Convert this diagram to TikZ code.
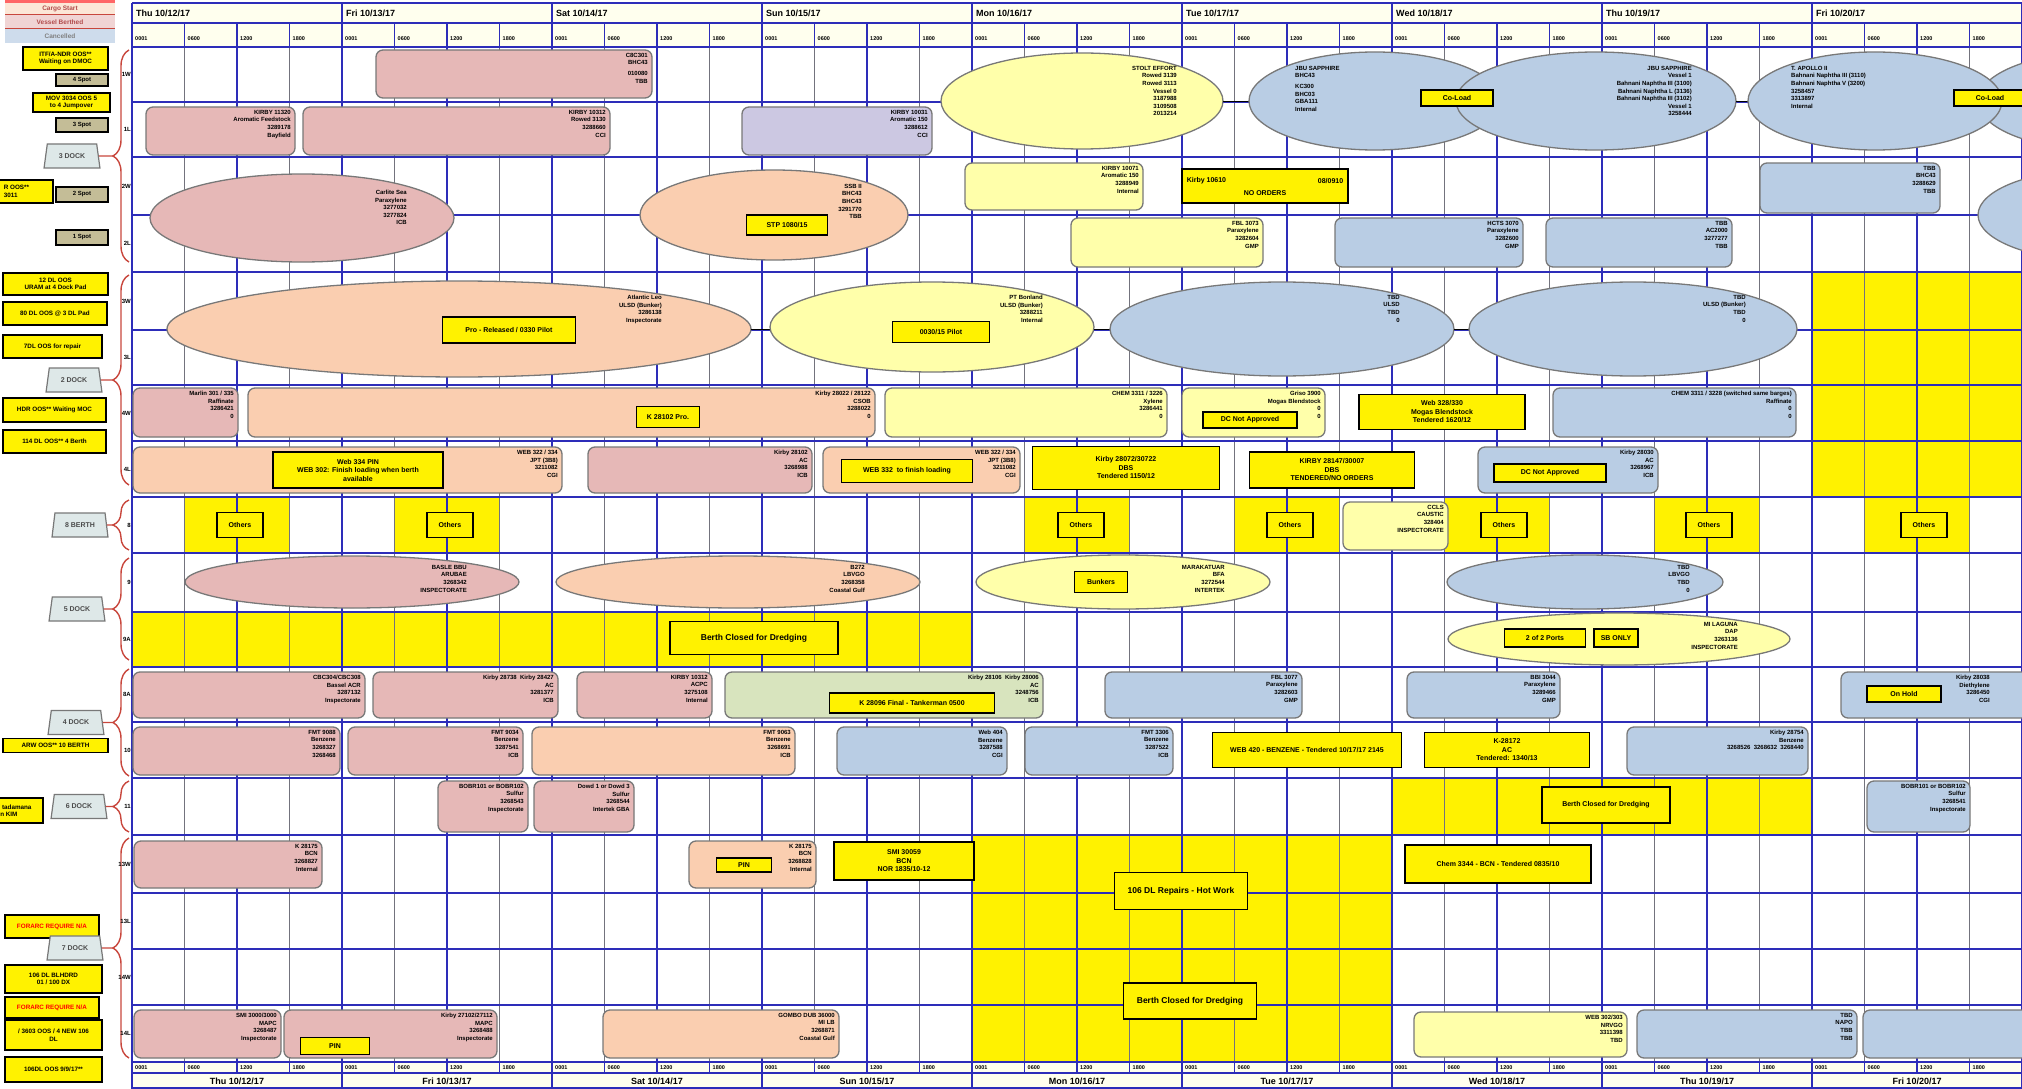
\documentclass[tikz,border=0pt]{standalone}
\usepackage{fontspec}
\setmainfont{Liberation Sans}
\usetikzlibrary{shapes.geometric,decorations.pathreplacing}

\definecolor{gridblue}{RGB}{45,45,185}
\definecolor{gridgray}{RGB}{115,115,125}
\definecolor{headfill}{RGB}{255,255,238}
\definecolor{pinkfill}{RGB}{230,184,183}
\definecolor{peachfill}{RGB}{250,206,176}
\definecolor{palefill}{RGB}{255,255,170}
\definecolor{bluefill}{RGB}{185,205,228}
\definecolor{lilacfill}{RGB}{204,200,226}
\definecolor{greenfill}{RGB}{216,228,190}
\definecolor{spotfill}{RGB}{196,189,151}
\definecolor{dockfill}{RGB}{222,232,232}
\definecolor{bracered}{RGB}{200,70,60}
\definecolor{edgegray}{RGB}{120,120,120}

\tikzset{
  dayline/.style={draw=gridblue, line width=1.8},
  rowline/.style={draw=gridblue, line width=1.6},
  qline/.style={draw=gridgray, line width=1.1},
  evbox/.style={draw=edgegray, line width=1.3, rounded corners=7},
  evell/.style={draw=edgegray, line width=1.3},
  evtext/.style={font=\bfseries\fontsize{6}{7.6}\selectfont, align=right, inner sep=0, anchor=north east},
  evtextl/.style={evtext, align=left, anchor=north west},
  note/.style={draw=black, line width=1.6, fill=yellow, font=\bfseries\fontsize{7}{8.5}\selectfont, align=center, inner sep=1},
  bignote/.style={note, font=\bfseries\fontsize{8.5}{10}\selectfont},
  leftnote/.style={note, font=\bfseries\fontsize{6.3}{7.5}\selectfont},
  spotbox/.style={draw=black, line width=1.6, fill=spotfill, font=\bfseries\fontsize{6}{7}\selectfont, inner sep=0, minimum width=52},
  dockshape/.style={trapezium, trapezium angle=75, trapezium stretches=true, draw=edgegray, line width=1.2, fill=dockfill, font=\bfseries\fontsize{7}{8}\selectfont, text=black!70, inner sep=1, minimum width=56, minimum height=24},
  dockbrace/.style={draw=bracered, line width=1.4, decorate, decoration={brace, amplitude=16}},
  rowlab/.style={font=\bfseries\fontsize{6}{7}\selectfont, anchor=east, inner sep=0},
  daylab/.style={font=\bfseries\fontsize{9}{10}\selectfont, anchor=west, inner sep=0},
  hourlab/.style={font=\bfseries\fontsize{5.5}{6}\selectfont, anchor=west, inner sep=0},
}

\begin{document}
\begin{tikzpicture}[x=1pt,y=1pt,yscale=-1]
\useasboundingbox (0,0) rectangle (2022,1089);

% header backgrounds
\fill[headfill] (132,3) rectangle (2022,47);
\fill[headfill] (132,1062) rectangle (2022,1089);

% closed / others blocks
\begin{scope}
  \clip (132,0) rectangle (2022,1089);
  \fill[yellow] (1812,272) rectangle (2022,497);
  \foreach \a in {184.5,394.5,1024.5,1234.5,1444.5,1654.5,1864.5}
    \fill[yellow] (\a,497) rectangle (\a+105,553);
  \fill[yellow] (132,612) rectangle (972,667);
  \fill[yellow] (1392,778) rectangle (1812,835);
  \fill[yellow] (972,835) rectangle (1392,1062);
\end{scope}

% grid
\foreach \d in {0,...,8} {
  \foreach \q in {1,3} {
    \draw[qline] (132+210*\d+52.5*\q,47) -- (132+210*\d+52.5*\q,1062);
    \draw[dayline, line width=1.2] (132+210*\d+52.5*\q,23) -- (132+210*\d+52.5*\q,47);
    \draw[dayline, line width=1.2] (132+210*\d+52.5*\q,1062) -- (132+210*\d+52.5*\q,1073);
  }
  \draw[dayline, line width=1.3] (132+210*\d+105,23) -- (132+210*\d+105,1073);
}
\foreach \d in {0,...,9}
  \draw[dayline] (132+210*\d,3) -- (132+210*\d,1089);
\foreach \y in {3,23,47,102,157,215,272,330,385,441,497,553,612,667,722,778,835,893,949,1005,1062,1073,1088}
  \draw[rowline] (132,\y) -- (2022,\y);

% day and hour labels
\foreach \d/\lab in {0/{Thu 10/12/17},1/{Fri 10/13/17},2/{Sat 10/14/17},3/{Sun 10/15/17},4/{Mon 10/16/17},5/{Tue 10/17/17},6/{Wed 10/18/17},7/{Thu 10/19/17},8/{Fri 10/20/17}} {
  \node[daylab] (dtop\d) at (132+210*\d+4,13) {\lab};
  \node[daylab, anchor=center] (dbot\d) at (132+210*\d+105,1081) {\lab};
  \foreach \q/\h in {0/0001,1/0600,2/1200,3/1800} {
    \node[hourlab] (htop\d\q) at (132+210*\d+52.5*\q+3,39) {\h};
    \node[hourlab] (hbot\d\q) at (132+210*\d+52.5*\q+3,1068) {\h};
  }
}

\begin{scope}
  \clip (132,0) rectangle (2022,1089);
  % row 1W
  \draw[evbox, fill=pinkfill] (376,50) rectangle (652,98);
  \node[evtext] (t1) at (648,53) {C8C301\\BHC43\\[3pt]010080\\TBB};
  \draw[evell, fill=palefill] (1082,101) ellipse [x radius=141, y radius=48];
  \node[evtext] (t2) at (1177,66) {STOLT EFFORT\\Rowed 3139\\Rowed 3113\\Vessel 0\\3187988\\3109508\\2013214};
  \draw (1223,101) -- (1250,101);
  \draw[evell, fill=bluefill] (1375,101) ellipse [x radius=126, y radius=49];
  \node[evtextl] (t3) at (1295,66) {JBU SAPPHIRE\\BHC43\\[3pt]KC300\\BHC03\\GBA111\\Internal};
  \draw[evell, fill=bluefill] (1596,101) ellipse [x radius=140, y radius=49];
  \node[evtext] (t4) at (1692,66) {JBU SAPPHIRE\\Vessel 1\\Bahnani Naphtha III (3100)\\Bahnani Naphtha L (3136)\\Bahnani Naphtha III (3102)\\Vessel 1\\3258444};
  \node[note, minimum width=72, minimum height=16] (n1) at (1457,98) {Co-Load};
  \draw (1736,101) -- (1748,101);
  \draw[evell, fill=bluefill] (2100,101) ellipse [x radius=122, y radius=49];
  \draw[evell, fill=bluefill] (1875,101) ellipse [x radius=127, y radius=49];
  \node[evtextl] (t5) at (1791,66) {T. APOLLO II\\Bahnani Naphtha III (3110)\\Bahnani Naphtha V (3200)\\3258457\\3313897\\Internal};
  \node[note, minimum width=72, minimum height=16] (n2) at (1990,98) {Co-Load};
  % row 1L
  \draw[evbox, fill=pinkfill] (146,107) rectangle (295,155);
  \node[evtext] (t6) at (291,110) {KIRBY 11320\\Aromatic Feedstock\\3289178\\Bayfield};
  \draw[evbox, fill=pinkfill] (303,107) rectangle (610,155);
  \node[evtext] (t7) at (606,110) {KIRBY 10312\\Rowed 3130\\3288660\\CCI};
  \draw[evbox, fill=lilacfill] (742,107) rectangle (932,155);
  \node[evtext] (t8) at (928,110) {KIRBY 10031\\Aromatic 150\\3288612\\CCI};
  % rows 2W / 2L
  \draw[evell, fill=pinkfill] (302,218) ellipse [x radius=152, y radius=44];
  \node[evtext] (t9) at (407,190) {Carlite Sea\\Paraxylene\\3277032\\3277824\\ICB};
  \draw[evell, fill=peachfill] (774,215) ellipse [x radius=134, y radius=45];
  \node[evtext] (t10) at (862,184) {SSB II\\BHC43\\BHC43\\3291770\\TBB};
  \node[note, minimum width=81, minimum height=20] (n3) at (787,225) {STP 1080/15};
  \draw[evbox, fill=palefill] (965,163) rectangle (1143,210);
  \node[evtext] (t11) at (1139,166) {KIRBY 10071\\Aromatic 150\\3288949\\Internal};
  \node[note, minimum width=166, minimum height=34] (n4) at (1265,186) {};
  \node[note, draw=none, anchor=west] (n4a) at (1185,181) {Kirby 10610};
  \node[note, draw=none, anchor=east] (n4b) at (1345,181) {08/0910};
  \node[note, draw=none] (n4c) at (1265,193) {NO ORDERS};
  \draw[evbox, fill=bluefill] (1760,163) rectangle (1940,213);
  \node[evtext] (t12) at (1936,166) {TBB\\BHC43\\3288629\\TBB};
  \draw[evell, fill=bluefill] (2100,215) ellipse [x radius=122, y radius=46];
  \draw[evbox, fill=palefill] (1071,218) rectangle (1263,267);
  \node[evtext] (t13) at (1259,221) {FBL 3073\\Paraxylene\\3282604\\GMP};
  \draw[evbox, fill=bluefill] (1335,218) rectangle (1523,267);
  \node[evtext] (t14) at (1519,221) {HCTS 3070\\Paraxylene\\3282600\\GMP};
  \draw[evbox, fill=bluefill] (1546,218) rectangle (1732,267);
  \node[evtext] (t15) at (1728,221) {TBB\\AC2000\\3277277\\TBB};
  % rows 3W / 3L
  \draw[evell, fill=peachfill] (459,329) ellipse [x radius=292, y radius=48];
  \node[evtext] (t16) at (662,295) {Atlantic Leo\\ULSD (Bunker)\\3286138\\Inspectorate};
  \node[note, minimum width=133, minimum height=26] (n5) at (509,330) {Pro - Released / 0330 Pilot};
  \draw (751,329) -- (770,329);
  \draw[evell, fill=palefill] (932,327) ellipse [x radius=162, y radius=45];
  \node[evtext] (t17) at (1043,295) {PT Bonland\\ULSD (Bunker)\\3288211\\Internal};
  \node[note, minimum width=97, minimum height=21] (n6) at (941,332) {0030/15 Pilot};
  \draw (1094,329) -- (1110,329);
  \draw[evell, fill=bluefill] (1282,329) ellipse [x radius=172, y radius=47];
  \node[evtext] (t18) at (1400,295) {TBD\\ULSD\\TBD\\0};
  \draw (1454,329) -- (1469,329);
  \draw[evell, fill=bluefill] (1633,329) ellipse [x radius=164, y radius=47];
  \node[evtext] (t19) at (1746,295) {TBD\\ULSD (Bunker)\\TBD\\0};
  % row 4W
  \draw[evbox, fill=pinkfill] (133,388) rectangle (238,437);
  \node[evtext] (t20) at (234,391) {Marlin 301 / 335\\Raffinate\\3286421\\0};
  \draw[evbox, fill=peachfill] (248,388) rectangle (875,437);
  \node[evtext] (t21) at (871,391) {Kirby 28022 / 28122\\CSOB\\3288022\\0};
  \node[note, minimum width=63, minimum height=21] (n7) at (668,417) {K 28102 Pro.};
  \draw[evbox, fill=palefill] (885,388) rectangle (1167,437);
  \node[evtext] (t22) at (1163,391) {CHEM 3311 / 3226\\Xylene\\3286441\\0};
  \draw[evbox, fill=palefill] (1182,388) rectangle (1325,437);
  \node[evtext] (t23) at (1321,391) {Griso 3900\\Mogas Blendstock\\0\\0};
  \node[note, minimum width=94, minimum height=16] (n8) at (1250,420) {DC Not Approved};
  \node[note, minimum width=166, minimum height=35] (n9) at (1442,412) {Web 328/330\\Mogas Blendstock\\Tendered 1620/12};
  \draw[evbox, fill=bluefill] (1553,388) rectangle (1796,437);
  \node[evtext] (t24) at (1792,391) {CHEM 3311 / 3228 (switched same barges)\\Raffinate\\0\\0};
  % row 4L
  \draw[evbox, fill=peachfill] (133,447) rectangle (562,493);
  \node[evtext] (t25) at (558,450) {WEB 322 / 334\\JPT (3B8)\\3211082\\CGI};
  \node[note, minimum width=170, minimum height=36] (n10) at (358,470) {Web 334 PIN\\WEB 302: Finish loading when berth\\available};
  \draw[evbox, fill=pinkfill] (588,447) rectangle (812,493);
  \node[evtext] (t26) at (808,450) {Kirby 28102\\AC\\3268988\\ICB};
  \draw[evbox, fill=peachfill] (823,447) rectangle (1020,493);
  \node[evtext] (t27) at (1016,450) {WEB 322 / 334\\JPT (3B8)\\3211082\\CGI};
  \node[note, minimum width=131, minimum height=23] (n11) at (907,471) {WEB 332~ to finish loading};
  \node[note, minimum width=187, minimum height=43] (n12) at (1126,468) {Kirby 28072/30722\\DBS\\Tendered 1150/12};
  \node[note, minimum width=165, minimum height=36] (n13) at (1332,470) {KIRBY 28147/30007\\DBS\\TENDERED/NO ORDERS};
  \draw[evbox, fill=bluefill] (1478,447) rectangle (1658,493);
  \node[evtext] (t28) at (1654,450) {Kirby 28030\\AC\\3268967\\ICB};
  \node[note, minimum width=112, minimum height=18] (n14) at (1550,473) {DC Not Approved};
  % row 8
  \foreach \x [count=\i] in {240,450,1081,1290,1504,1709,1924}
    \node[note, minimum width=46, minimum height=25] (oth\i) at (\x,525) {Others};
  \draw[evbox, fill=palefill] (1343,502) rectangle (1448,550);
  \node[evtext] (t29) at (1444,505) {CCLS\\CAUSTIC\\328404\\INSPECTORATE};
  % rows 5 DOCK
  \draw[evell, fill=pinkfill] (352,582) ellipse [x radius=167, y radius=26];
  \node[evtext] (t30) at (467,565) {BASLE BBU\\ARUBAE\\3268342\\INSPECTORATE};
  \draw[evell, fill=peachfill] (738,582) ellipse [x radius=182, y radius=26];
  \node[evtext] (t31) at (865,565) {B272\\LBVGO\\3268358\\Coastal Gulf};
  \draw[evell, fill=palefill] (1123,582) ellipse [x radius=147, y radius=27];
  \node[evtext] (t32) at (1225,565) {MARAKATUAR\\BFA\\3272544\\INTERTEK};
  \node[note, minimum width=53, minimum height=21] (n15) at (1101,582) {Bunkers};
  \draw[evell, fill=bluefill] (1585,582) ellipse [x radius=138, y radius=27];
  \node[evtext] (t33) at (1690,565) {TBD\\LBVGO\\TBD\\0};
  \node[bignote, minimum width=168, minimum height=33] (n16) at (754,638) {Berth Closed for Dredging};
  \draw[evell, fill=palefill] (1619,639) ellipse [x radius=171, y radius=26];
  \node[evtext] (t34) at (1738,622) {MI LAGUNA\\DAP\\3263136\\INSPECTORATE};
  \node[note, minimum width=81, minimum height=18] (n17) at (1545,638) {2 of 2 Ports};
  \node[note, minimum width=44, minimum height=18] (n18) at (1616,638) {SB ONLY};
  % rows 4 DOCK
  \draw[evbox, fill=pinkfill] (133,672) rectangle (365,718);
  \node[evtext] (t35) at (361,675) {CBC304/CBC308\\Bassel ACR\\3287132\\Inspectorate};
  \draw[evbox, fill=pinkfill] (373,672) rectangle (558,718);
  \node[evtext] (t36) at (554,675) {Kirby 28738~ Kirby 28427\\AC\\3281377\\ICB};
  \draw[evbox, fill=pinkfill] (577,672) rectangle (712,718);
  \node[evtext] (t37) at (708,675) {KIRBY 10312\\ACPC\\3275108\\Internal};
  \draw[evbox, fill=greenfill] (725,672) rectangle (1043,718);
  \node[evtext] (t38) at (1039,675) {Kirby 28106~ Kirby 28006\\AC\\3248756\\ICB};
  \node[note, minimum width=165, minimum height=20] (n19) at (912,703) {K 28096 Final - Tankerman 0500};
  \draw[evbox, fill=bluefill] (1105,672) rectangle (1302,718);
  \node[evtext] (t39) at (1298,675) {FBL 3077\\Paraxylene\\3282603\\GMP};
  \draw[evbox, fill=bluefill] (1407,672) rectangle (1560,718);
  \node[evtext] (t40) at (1556,675) {BBI 3044\\Paraxylene\\3289466\\GMP};
  \draw[evbox, fill=bluefill] (1841,672) rectangle (2040,718);
  \node[evtext] (t41) at (1990,675) {Kirby 28038\\Diethylene\\3286450\\CGI};
  \node[note, minimum width=74, minimum height=16] (n20) at (1904,694) {On Hold};
  \draw[evbox, fill=pinkfill] (133,727) rectangle (340,775);
  \node[evtext] (t42) at (336,730) {FMT 9088\\Benzene\\3268327\\3268468};
  \draw[evbox, fill=pinkfill] (348,727) rectangle (523,775);
  \node[evtext] (t43) at (519,730) {FMT 9034\\Benzene\\3287541\\ICB};
  \draw[evbox, fill=peachfill] (532,727) rectangle (795,775);
  \node[evtext] (t44) at (791,730) {FMT 9063\\Benzene\\3268691\\ICB};
  \draw[evbox, fill=bluefill] (837,727) rectangle (1007,775);
  \node[evtext] (t45) at (1003,730) {Web 404\\Benzene\\3287588\\CGI};
  \draw[evbox, fill=bluefill] (1025,727) rectangle (1173,775);
  \node[evtext] (t46) at (1169,730) {FMT 3306\\Benzene\\3287522\\ICB};
  \node[note, minimum width=189, minimum height=35] (n21) at (1307,750) {WEB 420 - BENZENE - Tendered 10/17/17 2145};
  \node[note, minimum width=165, minimum height=35] (n22) at (1507,750) {K-28172\\AC\\Tendered: 1340/13};
  \draw[evbox, fill=bluefill] (1627,727) rectangle (1808,775);
  \node[evtext] (t47) at (1804,730) {Kirby 28754\\Benzene\\3268526~ 3268632~ 3268440};
  % row 6 DOCK
  \draw[evbox, fill=pinkfill] (438,781) rectangle (528,832);
  \node[evtext] (t48) at (524,784) {BOBR101 or BOBR102\\Sulfur\\3268543\\Inspectorate};
  \draw[evbox, fill=pinkfill] (534,781) rectangle (634,832);
  \node[evtext] (t49) at (630,784) {Dowd 1 or Dowd 3\\Sulfur\\3268544\\Intertek GBA};
  \node[note, minimum width=128, minimum height=36] (n23) at (1606,805) {Berth Closed for Dredging};
  \draw[evbox, fill=bluefill] (1867,781) rectangle (1970,832);
  \node[evtext] (t50) at (1966,784) {BOBR101 or BOBR102\\Sulfur\\3268541\\Inspectorate};
  % rows 7 DOCK
  \draw[evbox, fill=pinkfill] (134,841) rectangle (322,888);
  \node[evtext] (t51) at (318,844) {K 28175\\BCN\\3268827\\Internal};
  \draw[evbox, fill=peachfill] (689,841) rectangle (816,888);
  \node[evtext] (t52) at (812,844) {K 28175\\BCN\\3268828\\Internal};
  \node[note, minimum width=55, minimum height=14] (n24) at (744,865) {PIN};
  \node[note, minimum width=140, minimum height=38] (n25) at (904,861) {SMI 30059\\BCN\\NOR 1835/10-12};
  \node[bignote, minimum width=133, minimum height=37] (n26) at (1181,891) {106 DL Repairs - Hot Work};
  \node[bignote, minimum width=133, minimum height=36] (n27) at (1190,1001) {Berth Closed for Dredging};
  \node[note, minimum width=186, minimum height=38] (n28) at (1498,864) {Chem 3344 - BCN - Tendered 0835/10};
  \draw[evbox, fill=pinkfill] (134,1010) rectangle (281,1058);
  \node[evtext] (t53) at (277,1013) {SMI 3000/3000\\MAPC\\3268487\\Inspectorate};
  \draw[evbox, fill=pinkfill] (284,1010) rectangle (497,1058);
  \node[evtext] (t54) at (493,1013) {Kirby 27102/27112\\MAPC\\3268488\\Inspectorate};
  \node[note, minimum width=69, minimum height=17] (n29) at (335,1046) {PIN};
  \draw[evbox, fill=peachfill] (603,1010) rectangle (839,1058);
  \node[evtext] (t55) at (835,1013) {GOMBO DUB 36000\\MI LB\\3268871\\Coastal Gulf};
  \draw[evbox, fill=palefill] (1414,1012) rectangle (1627,1057);
  \node[evtext] (t56) at (1623,1015) {WEB 302/303\\NRVGO\\3311398\\TBD};
  \draw[evbox, fill=bluefill] (1637,1010) rectangle (1857,1058);
  \node[evtext] (t57) at (1853,1013) {TBD\\NAPO\\TBB\\TBB};
  \draw[evbox, fill=bluefill] (1863,1010) rectangle (2040,1058);
\end{scope}

% legend
\fill[red!60] (5,0) rectangle (115,3);
\fill[peachfill!50] (5,3) rectangle (115,15);
\fill[pinkfill!60] (5,15) rectangle (115,29);
\fill[bluefill!70] (5,29) rectangle (115,43);
\draw[bracered, line width=1] (5,15) -- (115,15) (5,29) -- (115,29);
\node[font=\bfseries\fontsize{6.5}{7}\selectfont, text=red!40!gray] (lg1) at (60,9) {Cargo Start};
\node[font=\bfseries\fontsize{6.5}{7}\selectfont, text=red!40!gray] (lg2) at (60,22) {Vessel Berthed};
\node[font=\bfseries\fontsize{6.5}{7}\selectfont, text=gray] (lg3) at (60,36) {Cancelled};

% left side notes
\node[leftnote, minimum width=85, minimum height=23] (l1) at (65.5,58.5) {ITF/A-NDR OOS**\\Waiting on DMOC};
\node[leftnote, minimum width=77, minimum height=19] (l2) at (71.5,102.5) {MOV 3034 OOS 5\\to 4 Jumpover};
\node[leftnote, minimum width=73, minimum height=23, align=left] (l3) at (16.5,191.5) {R OOS**\\3011};
\node[leftnote, minimum width=105, minimum height=22] (l4) at (55.5,284) {12 DL OOS\\URAM at 4 Dock Pad};
\node[leftnote, minimum width=104, minimum height=23] (l5) at (55,313.5) {80 DL OOS @ 3 DL Pad};
\node[leftnote, minimum width=99, minimum height=23] (l6) at (52.5,346.5) {7DL OOS for repair};
\node[leftnote, minimum width=103, minimum height=24] (l7) at (54.5,410) {HDR OOS** Waiting MOC};
\node[leftnote, minimum width=103, minimum height=23] (l8) at (54.5,441.5) {114 DL OOS** 4 Berth};
\node[leftnote, minimum width=105, minimum height=14] (l9) at (55.5,745.5) {ARW OOS** 10 BERTH};
\node[leftnote, minimum width=58, minimum height=25, align=left] (l10) at (14,810.5) {T tadamana\\on KIM};
\node[leftnote, minimum width=94, minimum height=23, text=red] (l11) at (52,926.5) {FORARC REQUIRE N/A};
\node[leftnote, minimum width=97, minimum height=28] (l12) at (53.5,979) {106 DL BLHDRD\\01 / 100 DX};
\node[leftnote, minimum width=94, minimum height=21, text=red] (l13) at (52,1007.5) {FORARC REQUIRE N/A};
\node[leftnote, minimum width=97, minimum height=30] (l14) at (53.5,1035) {/ 3603 OOS / 4 NEW 106\\DL};
\node[leftnote, minimum width=97, minimum height=25] (l15) at (53.5,1069.5) {106DL OOS 9/9/17**};

% spots
\node[spotbox, minimum height=12] (s4) at (82,80) {4 Spot};
\node[spotbox, minimum height=14] (s3) at (82,125) {3 Spot};
\node[spotbox, minimum height=15] (s2) at (82,194.5) {2 Spot};
\node[spotbox, minimum height=15] (s1) at (82,237.5) {1 Spot};

% docks and braces
\foreach \nm/\lab/\top/\bot/\cx in {dockthree/3 DOCK/50/262/72, docktwo/2 DOCK/275/485/74, berth/8 BERTH/500/550/80, dockfive/5 DOCK/558/660/77, dockfour/4 DOCK/669/776/76, docksix/6 DOCK/781/832/79, dockseven/7 DOCK/838/1058/75} {
  \pgfmathsetmacro\mid{(\top+\bot)/2}
  \draw[dockbrace] (129,\bot) -- (129,\top);
  \coordinate (\nm-tip) at (113,\mid);
  \node[dockshape] (\nm) at (\cx,\mid) {\lab};
  \draw[bracered, line width=1.4] (\nm.east) -- (\nm-tip);
}

% berth labels
\foreach \y/\lab [count=\i] in {74.5/1W,129.5/1L,186/2W,243.5/2L,301/3W,357.5/3L,413/4W,469/4L,525/8,582.5/9,639.5/9A,694.5/8A,750/10,806.5/11,864/13W,921/13L,977/14W,1033.5/14L}
  \node[rowlab] (row\i) at (131,\y) {\lab};

\end{tikzpicture}
\end{document}
